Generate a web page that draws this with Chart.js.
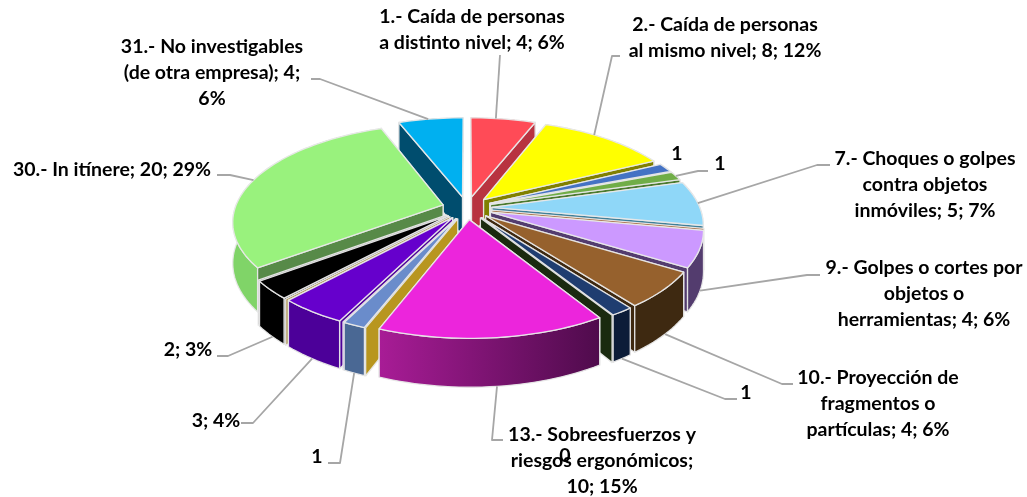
<!DOCTYPE html>
<html>
<head>
<meta charset="utf-8">
<script src="https://cdn.jsdelivr.net/npm/chart.js@4"></script>
<style>
    html, body { margin: 0; padding: 0; background: #fff; }
    #wrap { position: relative; width: 1027px; height: 497px; }
</style>
</head>
<body>
<div id="wrap"><canvas id="pie"></canvas></div>
<script>
// clockwise from 12 o'clock, zero slices only show their cut wall
const categories = [
    '1.- Caída de personas a distinto nivel',
    '2.- Caída de personas al mismo nivel',
    '3', '4',
    '7.- Choques o golpes contra objetos inmóviles',
    '8',
    '9.- Golpes o cortes por objetos o herramientas',
    '10.- Proyección de fragmentos o partículas',
    '11', '12',
    '13.- Sobreesfuerzos y riesgos ergonómicos',
    '14', '15', '16', '17', '18', '19', '20',
    '30.- In itínere', '31.- No investigables (de otra empresa)'
];
const values = [4, 8, 1, 1, 5, 0, 4, 4, 1, 0, 10, 0, 1, 0, 3, 0, 2, 0, 20, 4];

const topColors = ['#FF4B57', '#FFFF00', '#4472C4', '#70AD47', '#8FD7F8', '#A5673A',
    '#CC99FF', '#96612D', '#1F3D70', '#1A2A0F', '#EC25DC', '#B8961F', '#6A8CCB', '#7A1FD0',
    '#6600CC', '#B09A5A', '#000000', '#9A9A9A', '#99F27D', '#00B0F0'];
const wallColors = ['#B83340', '#808000', '#2F5597', '#4B7A2E', '#3F7F99', '#8A5530',
    '#533C6E', '#3E2911', '#0C1C38', '#1A2A0F', '#A81C96', '#B8961F', '#4A6894', '#6A10C0',
    '#4C0099', '#A08A50', '#000000', '#777777', '#578A48', '#004D6E'];
const outerWallColors = {18: '#80D468'};
const wallGradients = {10: ['#A81C96', '#4F0B4C']};

// text blocks: lines, centre x, y of first line
const labelTexts = [
    [['1.- Caída de personas', 'a distinto nivel; 4; 6%'], 472, 17],
    [['2.- Caída de personas', 'al mismo nivel; 8; 12%'], 725, 25],
    [['1'], 677, 154],
    [['1'], 720, 164],
    [['7.- Choques o golpes', 'contra objetos', 'inmóviles; 5; 7%'], 925, 159],
    [['9.- Golpes o cortes por', 'objetos o', 'herramientas; 4; 6%'], 924, 268],
    [['10.- Proyección de', 'fragmentos o', 'partículas; 4; 6%'], 878, 378],
    [['1'], 746, 393],
    [['13.- Sobreesfuerzos y', 'riesgos ergonómicos;', '10; 15%'], 602, 435],
    [['0'], 565, 456],
    [['1'], 317, 457],
    [['3; 4%'], 216, 421],
    [['2; 3%'], 188, 350],
    [['30.- In itínere; 20; 29%'], 112, 170],
    [['31.- No investigables', '(de otra empresa); 4;', '6%'], 212, 47]
];

// leader lines: slice index, where on the slice's arc it starts, then the points towards the label
const leaderLines = [
    [0, 0.4, [[500, 55]]],
    [1, 0.42, [[612, 56], [620, 56]]],
    [3, 0.5, [[698, 171], [708, 171]]],
    [4, 0.5, [[817, 165], [830, 165]]],
    [6, 0.5, [[807, 275], [820, 275]]],
    [7, 0.5, [[782, 384], [793, 384]]],
    [8, 0.5, [[725, 399], [737, 399]]],
    [10, 0.5, [[492, 440], [503, 440]]],
    [12, 0.5, [[340, 463], [328, 463]]],
    [14, 0.5, [[253, 423], [241, 423]]],
    [16, 0.5, [[228, 356], [217, 356]]],
    [18, 0.5, [[230, 175], [217, 175]]],
    [19, 0.5, [[320, 79], [311, 79]]]
];

const PERSP = 0.00078;
const TILT = 0.458;
const DEPTH = 40;

function project(arc, px, py, down) {
    const s = 1 / (1 - PERSP * py);
    return [arc.x + px * s, arc.y + TILT * py * s + (down ? DEPTH * s : 0)];
}

// slice outline in the ground plane, taken from the arc element chart.js laid out
function sliceGeom(arc) {
    const p = arc.getProps(['x', 'y', 'startAngle', 'endAngle', 'outerRadius']);
    const mid = (p.startAngle + p.endAngle) / 2;
    const off = arc.options.offset;
    const ox = Math.cos(mid) * off, oy = Math.sin(mid) * off;
    const pts = [];
    const steps = Math.max(1, Math.ceil((p.endAngle - p.startAngle) / 0.03));
    for (let i = 0; i <= steps; i++) {
        const a = p.startAngle + (p.endAngle - p.startAngle) * i / steps;
        pts.push([ox + Math.cos(a) * p.outerRadius, oy + Math.sin(a) * p.outerRadius]);
    }
    return {x: p.x, y: p.y, mid, apex: [ox, oy], pts};
}

function poly(ctx, list) {
    ctx.beginPath();
    list.forEach((q, i) => i ? ctx.lineTo(q[0], q[1]) : ctx.moveTo(q[0], q[1]));
    ctx.closePath();
}

function paintFace(ctx, list, fill, edge) {
    poly(ctx, list);
    ctx.fillStyle = fill;
    ctx.fill();
    ctx.strokeStyle = edge;
    ctx.lineWidth = 1.3;
    ctx.stroke();
}

function drawSlice(ctx, arc, i) {
    const g = sliceGeom(arc);
    const top = g.pts.map(q => project(g, q[0], q[1], false));
    const bot = g.pts.map(q => project(g, q[0], q[1], true));
    const apT = project(g, g.apex[0], g.apex[1], false);
    const apB = project(g, g.apex[0], g.apex[1], true);
    const last = top.length - 1;
    const edge = 'rgba(232,232,232,0.95)';

    if (values[i] === 0) {
        // no area, only the cut wall shows
        paintFace(ctx, [apT, top[0], bot[0], apB], topColors[i], edge);
        return;
    }

    const faces = [
        {y: (g.apex[1] + g.pts[0][1]) / 2, pts: [apT, top[0], bot[0], apB], fill: wallColors[i]},
        {y: (g.apex[1] + g.pts[last][1]) / 2, pts: [apT, top[last], bot[last], apB], fill: wallColors[i]}
    ];
    let outerFill = outerWallColors[i] || wallColors[i];
    if (wallGradients[i]) {
        outerFill = ctx.createLinearGradient(top[last][0], 0, top[0][0], 0);
        outerFill.addColorStop(0, wallGradients[i][0]);
        outerFill.addColorStop(1, wallGradients[i][1]);
    }
    faces.push({y: g.pts[Math.floor(last / 2)][1], pts: top.concat(bot.slice().reverse()), fill: outerFill});
    faces.sort((a, b) => a.y - b.y).forEach(f => paintFace(ctx, f.pts, f.fill, edge));

    paintFace(ctx, [apT].concat(top), topColors[i], edge);
}

const pie3d = {
    id: 'pie3d',
    beforeDatasetDraw(chart, args) {
        const ctx = chart.ctx;
        const arcs = args.meta.data;
        // far slices first
        const order = arcs.map((a, i) => i).sort((a, b) => {
            const ma = (arcs[a].startAngle + arcs[a].endAngle) / 2;
            const mb = (arcs[b].startAngle + arcs[b].endAngle) / 2;
            return Math.sin(ma) - Math.sin(mb);
        });
        ctx.save();
        ctx.lineJoin = 'round';
        order.forEach(i => drawSlice(ctx, arcs[i], i));
        ctx.restore();
        return false;
    },
    afterDraw(chart) {
        const ctx = chart.ctx;
        const arcs = chart.getDatasetMeta(0).data;
        ctx.save();
        ctx.strokeStyle = '#A6A6A6';
        ctx.lineWidth = 1.8;
        ctx.lineJoin = 'round';
        leaderLines.forEach(([i, along, rest]) => {
            const g = sliceGeom(arcs[i]);
            const q = g.pts[Math.floor((g.pts.length - 1) * along)];
            // front slices hang the line from the wall's lower edge
            const start = project(g, q[0], q[1], q[1] > 40);
            ctx.beginPath();
            ctx.moveTo(start[0], start[1]);
            rest.forEach(r => ctx.lineTo(r[0], r[1]));
            ctx.stroke();
        });
        ctx.fillStyle = '#000';
        ctx.font = 'bold 19.5px Lato, sans-serif';
        ctx.textAlign = 'center';
        ctx.textBaseline = 'middle';
        labelTexts.forEach(([lines, cx, y]) => {
            lines.forEach((line, n) => ctx.fillText(line, cx, y + n * 26));
        });
        ctx.restore();
    }
};

new Chart(document.getElementById('pie'), {
    type: 'pie',
    data: {
        labels: categories,
        datasets: [{
            data: values,
            backgroundColor: topColors,
            borderWidth: 0,
            offset: 25,
            radius: 208
        }]
    },
    options: {
        responsive: true,
        maintainAspectRatio: false,
        animation: false,
        events: [],
        layout: {padding: {right: 93, bottom: 81}},
        plugins: {legend: {display: false}, tooltip: {enabled: false}}
    },
    plugins: [pie3d]
});
</script>
</body>
</html>
